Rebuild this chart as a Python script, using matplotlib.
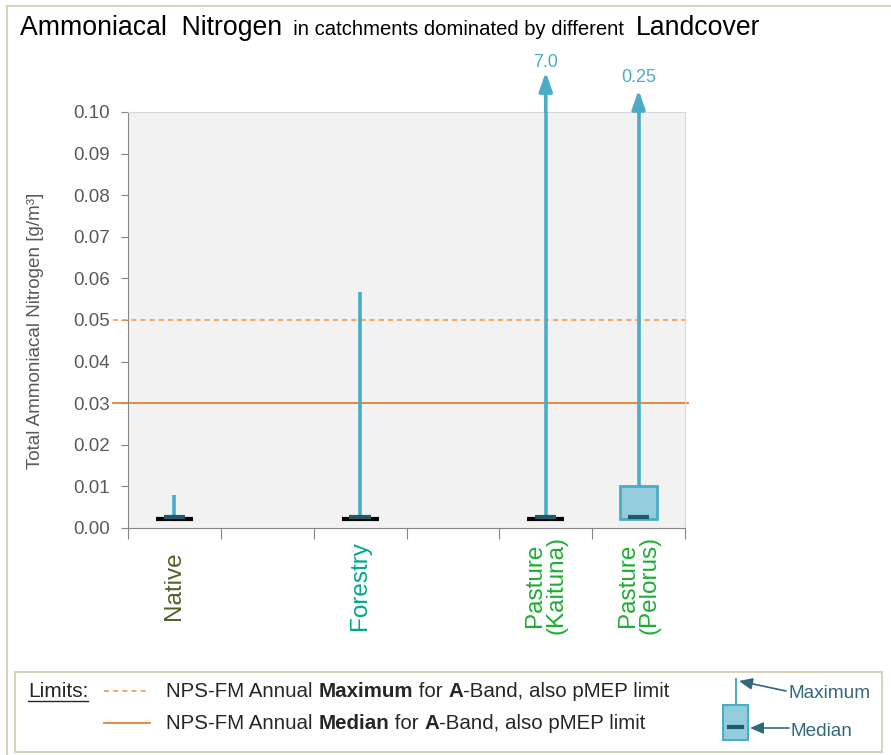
import matplotlib
matplotlib.use('Agg')
import matplotlib.pyplot as plt
from matplotlib.patches import Rectangle, FancyArrowPatch
from matplotlib.lines import Line2D

# データ
categories = ['Native', 'Forestry', 'Pasture\n(Kaituna)', 'Pasture\n(Pelorus)']
label_colors = ['#4F6228', '#00A88A', '#1DAE32', '#1DAE32']
slots = [0.5, 2.5, 4.5, 5.5]
maxima = [0.008, 0.0567, 7.0, 0.25]
q1 = [0.0022, 0.0022, 0.0022, 0.0022]
q3 = [0.0022, 0.0022, 0.0022, 0.0101]
medians = [0.0026, 0.0026, 0.0026, 0.0026]
limit_max = 0.05
limit_median = 0.03
yticks = [0.00, 0.01, 0.02, 0.03, 0.04, 0.05, 0.06, 0.07, 0.08, 0.09, 0.10]

whisker_c = '#4BACC6'
box_fill = '#93CDDD'
median_c = '#215968'
orange = '#F79646'
frame_c = '#D8D3B8'
grey_txt = '#595959'

plt.rcParams['font.family'] = ['Liberation Sans', 'DejaVu Sans']

fig = plt.figure(figsize=(8.91, 7.55), dpi=100)
ax = fig.add_axes([128 / 891, 1 - 528 / 755, 557 / 891, 416 / 755])
ax.set_facecolor('#F2F2F2')
ax.set_xlim(0, 6)
ax.set_ylim(0, 0.10)

# 基準線
ax.axhline(limit_max, xmin=-0.027, xmax=1.006, color=orange, lw=1.2,
           ls=(0, (3, 2.5)), clip_on=False, zorder=2)
ax.axhline(limit_median, xmin=-0.027, xmax=1.006, color='#E8812F', lw=1.3,
           clip_on=False, zorder=2)

# ボックスとひげ
for x, mx, lo, hi, md in zip(slots, maxima, q1, q3, medians):
    top = min(mx, 0.10)
    ax.plot([x, x], [hi, top], color=whisker_c, lw=2.6, solid_capstyle='butt', zorder=3)
    if hi > lo:
        ax.add_patch(Rectangle((x - 0.2, lo), 0.4, hi - lo, facecolor=box_fill,
                               edgecolor=whisker_c, lw=2, zorder=4))
    else:
        ax.plot([x - 0.2, x + 0.2], [lo, lo], color='black', lw=3,
                solid_capstyle='butt', zorder=4)
    ax.plot([x - 0.115, x + 0.115], [md, md], color=median_c, lw=3,
            solid_capstyle='butt', zorder=5)
    if mx > 0.10:
        ax.annotate('', xy=(x, 1.096 if mx > 1 else 1.053), xytext=(x, 1.0),
                    xycoords=('data', 'axes fraction'), textcoords=('data', 'axes fraction'),
                    arrowprops=dict(arrowstyle='-|>,head_length=0.8,head_width=0.28',
                                    color=whisker_c, lw=2.6,
                                    mutation_scale=14, shrinkA=0, shrinkB=0),
                    annotation_clip=False)
        ax.text(x, 1.118 if mx > 1 else 1.082, f'{mx:.1f}' if mx > 1 else f'{mx:.2f}',
                transform=ax.get_xaxis_transform(), ha='center', va='center',
                color=whisker_c, fontsize=13)

# 軸
ax.set_yticks(yticks)
ax.set_yticklabels([f'{v:.2f}' for v in yticks])
ax.tick_params(axis='y', length=5, color='#868686', labelsize=13.5,
               labelcolor=grey_txt, pad=8)
ax.set_xticks(range(7))
ax.set_xticklabels([])
ax.tick_params(axis='x', length=8, color='#868686')
for s in ['left', 'bottom']:
    ax.spines[s].set_color('#868686')
for s in ['top', 'right']:
    ax.spines[s].set_color('#D9D9D9')
ax.set_ylabel('Total Ammoniacal Nitrogen [g/m³]', fontsize=13.6, color=grey_txt)
ax.yaxis.set_label_coords(-0.15, 0.475)

for x, name, c in zip(slots, categories, label_colors):
    ax.text(x, -0.0138, name, rotation=90, ha='center', va='center',
            color=c, fontsize=17.5, multialignment='center', linespacing=1.0)

renderer = fig.canvas.get_renderer()


def runs(x, y, parts, **kw):
    # 文字列を順番に並べる
    for s, size, weight in parts:
        t = fig.text(x / 891, 1 - y / 755, s, fontsize=size, fontweight=weight,
                     va='baseline', ha='left', **kw)
        x += t.get_window_extent(renderer).width
    return x


runs(20, 35, [('Ammoniacal  Nitrogen', 19.2, 'normal'),
              ('  in catchments dominated by different  ', 14.6, 'normal'),
              ('Landcover', 19.2, 'normal')], color='black')

# 外枠
fig.add_artist(Line2D([7 / 891, 7 / 891], [0, 1 - 6 / 755], color=frame_c, lw=1.5))
fig.add_artist(Line2D([7 / 891, 1], [1 - 6 / 755, 1 - 6 / 755], color=frame_c, lw=1.5))
fig.add_artist(Rectangle((15 / 891, 1 - 752 / 755), 867 / 891, 80 / 755,
                         transform=fig.transFigure, facecolor='white',
                         edgecolor=frame_c, lw=1.5))

# 凡例
lim = fig.text(28 / 891, 1 - 697 / 755, 'Limits:', fontsize=15, color='#262626')
w = lim.get_window_extent(renderer).width
fig.add_artist(Line2D([28 / 891, (28 + w) / 891], [1 - 701 / 755] * 2, color='#262626', lw=1))
fig.add_artist(Line2D([104 / 891, 150 / 891], [1 - 691 / 755] * 2, color=orange, lw=1.2,
                      ls=(0, (3, 2.5))))
fig.add_artist(Line2D([104 / 891, 150 / 891], [1 - 723 / 755] * 2, color='#E8812F', lw=1.3))
runs(166, 697, [('NPS-FM Annual ', 14.8, 'normal'), ('Maximum', 14.8, 'bold'),
                (' for ', 14.8, 'normal'), ('A', 14.8, 'bold'),
                ('-Band, also pMEP limit', 14.8, 'normal')], color='#262626')
runs(166, 729, [('NPS-FM Annual ', 14.8, 'normal'), ('Median', 14.8, 'bold'),
                (' for ', 14.8, 'normal'), ('A', 14.8, 'bold'),
                ('-Band, also pMEP limit', 14.8, 'normal')], color='#262626')

# 凡例のミニボックス
fig.add_artist(Line2D([736 / 891, 736 / 891], [1 - 679 / 755, 1 - 705 / 755],
                      color=whisker_c, lw=1.5))
fig.add_artist(Rectangle((723 / 891, 1 - 740 / 755), 25 / 891, 35 / 755,
                         transform=fig.transFigure, facecolor=box_fill,
                         edgecolor=whisker_c, lw=1.5))
fig.add_artist(Line2D([729 / 891, 742 / 891], [1 - 727 / 755] * 2, color=median_c, lw=3))
fig.text(789 / 891, 1 - 693 / 755, 'Maximum', fontsize=13.7,
         color='#31687A', va='center')
fig.text(790 / 891, 1 - 731 / 755, 'Median', fontsize=13.7,
         color='#31687A', va='center')
arr = dict(arrowstyle='-|>,head_length=0.8,head_width=0.35', color='#31687A', lw=1.2,
           mutation_scale=10, shrinkA=0, shrinkB=0)
fig.add_artist(FancyArrowPatch((786 / 891, 1 - 691 / 755), (739 / 891, 1 - 681 / 755),
                               transform=fig.transFigure, **arr))
fig.add_artist(FancyArrowPatch((789 / 891, 1 - 728 / 755), (750 / 891, 1 - 728 / 755),
                               transform=fig.transFigure, **arr))

fig.savefig('out.png', dpi=100)
plt.close()
